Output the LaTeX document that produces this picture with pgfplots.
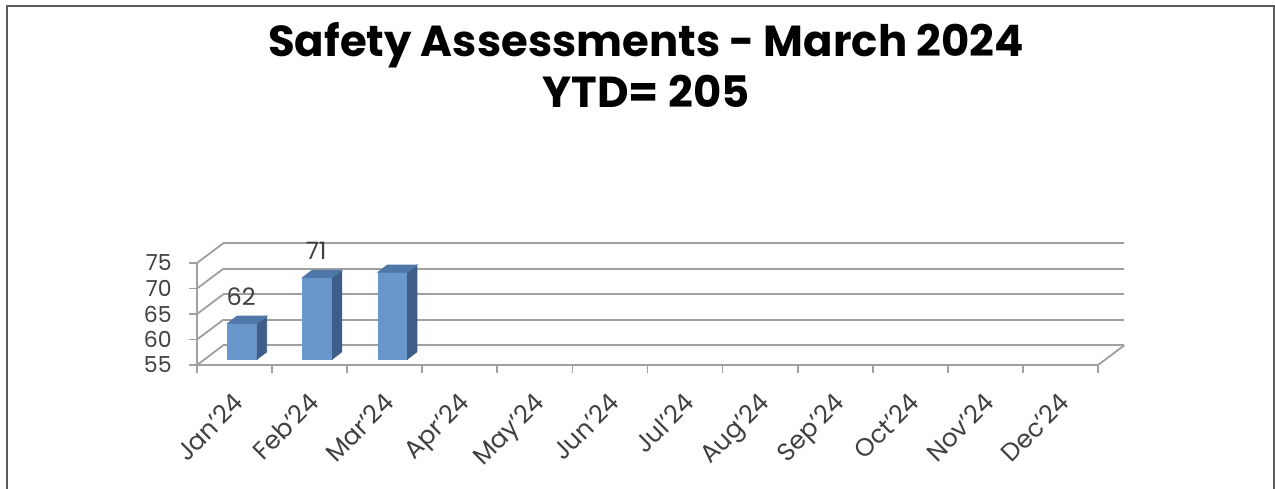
\documentclass[border=0pt]{standalone}
\usepackage{pgfplots}
\pgfplotsset{compat=1.18}
\usepackage{pgfplotstable}
\usepackage{fontspec}
\setmainfont{Poppins}
\definecolor{gridcol}{HTML}{A0A0A0}
\definecolor{barfront}{HTML}{6A97CB}
\definecolor{bartop}{HTML}{4F78A8}
\definecolor{barside}{HTML}{3E5E87}
\definecolor{framecol}{HTML}{5A5A5A}
\definecolor{labcol}{HTML}{404040}
\pgfplotstableread{
x v lbl
0.5 62 1
1.5 71 1
2.5 72 0
}\bardata
\begin{document}
\begin{tikzpicture}
\path[use as bounding box] (0,0) rectangle (637.5pt,244pt);
\draw[framecol, line width=1pt] (3.25pt,-2pt) -- (3.25pt,240.75pt) -- (637pt,240.75pt) -- (637pt,-2pt);
\node[font=\bfseries\fontsize{21.7}{24}\selectfont, anchor=base] at (323pt,215.65pt) {Safety Assessments - March 2024};
\node[font=\bfseries\fontsize{21.7}{24}\selectfont, anchor=base] at (323pt,190.35pt) {YTD= 205};
% back wall
\begin{axis}[at={(111.7pt,71.4pt)}, anchor=south west, scale only axis,
  width=450.5pt, height=51pt, xmin=0, xmax=12, ymin=55, ymax=75,
  axis line style={draw=none}, xtick=\empty, ytick={55,60,...,75}, yticklabels={},
  major tick length=0pt, ymajorgrids, grid style={gridcol, line width=0.9pt}]
\end{axis}
% front
\begin{axis}[at={(98.5pt,61.5pt)}, anchor=south west, scale only axis,
  width=450.5pt, height=51pt, xmin=0, xmax=12, ymin=55, ymax=75, clip=false,
  axis x line*=bottom, axis y line*=left,
  axis line style={gridcol, line width=0.9pt, -},
  tick style={gridcol, line width=0.9pt}, tick align=outside,
  /pgf/number format/assume math mode=true,
  xtick={0,1,...,12}, xticklabels={}, major tick length=4pt,
  extra x ticks={0.5,1.5,...,11.5},
  extra x tick labels={Jan'24,Feb'24,Mar'24,Apr'24,May'24,Jun'24,Jul'24,Aug'24,Sep'24,Oct'24,Nov'24,Dec'24},
  extra x tick style={major tick length=0pt,
    xticklabel style={font=\fontsize{12.5}{14}\selectfont, text=labcol, xshift=-1.25pt, yshift=-13pt, rotate=45, anchor=north east, inner sep=0pt}},
  ytick={55,60,...,75},
  yticklabel style={font=\fontsize{11}{13}\selectfont, text=labcol, anchor=east, inner sep=0pt, xshift=-8.5pt},
  ]
\pgfplotsinvokeforeach{55,60,65,70,75}{\draw[gridcol, line width=0.9pt] (axis cs:0,#1) -- ++(13.2pt,9.9pt);}
\draw[gridcol, line width=0.9pt] (axis cs:12,55) -- ++(13.2pt,9.9pt);
\addplot[scatter, only marks, mark=*, mark size=0pt, mark options={draw=none, fill=none},
  visualization depends on={\thisrow{v} \as \val},
  visualization depends on={\thisrow{lbl} \as \lbl},
  scatter/@pre marker code/.code={%
    \pgfmathsetmacro\hb{3-(\val-55)*2.55}%
    \pgfmathsetmacro\hs{\hb+3.6}%
    \fill[barfront] (-3.4pt,3pt) rectangle (11.4pt,\hb pt);
    \fill[barside] (11.4pt,3pt) -- (16.1pt,6.6pt) -- (16.1pt,\hs pt) -- (11.4pt,\hb pt) -- cycle;
    \fill[bartop] (-3.4pt,3pt) -- (11.4pt,3pt) -- (16.1pt,6.6pt) -- (1.3pt,6.6pt) -- cycle;
    \ifdim\lbl pt>0.5pt \node[font=\fontsize{12}{14}\selectfont, text=labcol, inner sep=0pt] at (3.3pt,16.4pt) {\pgfmathprintnumber{\val}};\fi
  },
  scatter/@post marker code/.code={},
] table[x=x, y=v] {\bardata};
\end{axis}
\end{tikzpicture}
\end{document}
